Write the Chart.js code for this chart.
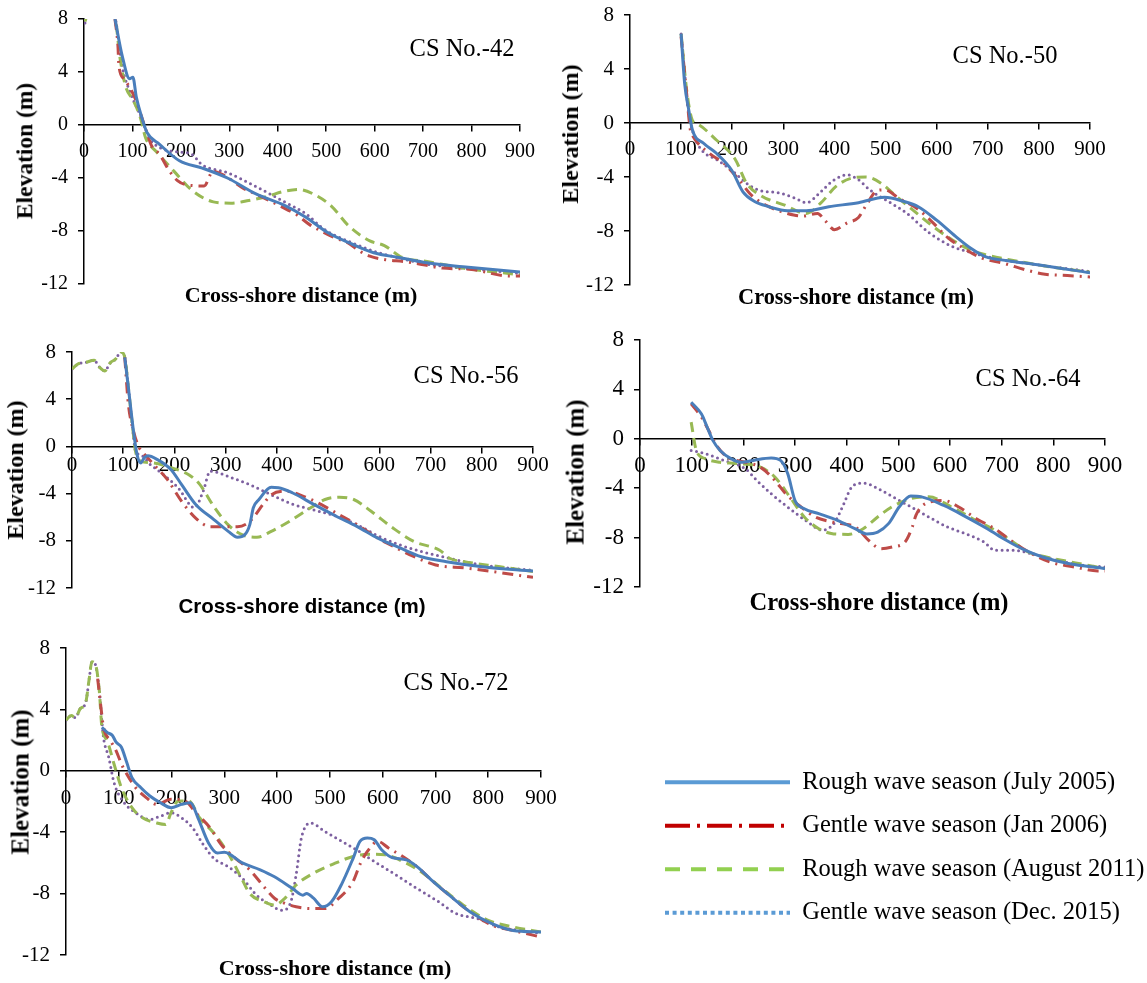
<!DOCTYPE html>
<html>
<head>
<meta charset="utf-8">
<script src="https://cdn.jsdelivr.net/npm/chart.js@4.4.1/dist/chart.umd.min.js"></script>
<style>
  body { margin: 0; background: #fff; }
  #page { position: relative; width: 1147px; height: 983px; overflow: hidden; }
  canvas { position: absolute; }
  .lbl { position: absolute; white-space: nowrap; transform: translate(-50%, -50%); color: #000;
         font-family: "Liberation Serif", "Times New Roman", serif; line-height: 1; }
  .ytitle { transform: translate(-50%, -50%) rotate(-90deg); font-weight: bold; }
  .xtitle { font-weight: bold; }
</style>
</head>
<body>
<div id="page"></div>
<script>
// distance (m), elevation (m) pairs for each profile survey
const seriesNames = ['Rough wave season (July 2005)', 'Gentle wave season (Jan 2006)',
                     'Rough wave season (August 2011)', 'Gentle wave season (Dec. 2015)'];
const xTicks = [0, 100, 200, 300, 400, 500, 600, 700, 800, 900];
const yTicks = [-12, -8, -4, 0, 4, 8];

const cs42Jul05 = [[64,8],[79,5.2],[94,3.5],[101,3.6],[108,2.1],[119,0.6],[130,-0.56],[156,-1.46],[197,-2.7],[244,-3.25],[296,-4.0],[355,-5.2],[414,-6.06],[458,-6.96],[502,-8.1],[554,-9.0],[598,-9.64],[650,-10.0],[708,-10.4],[782,-10.7],[900,-11.1]];
const cs42Jan06 = [[64,8],[70,6],[72,4.5],[82,3.5],[95,2.8],[108,1.8],[119,0.6],[130,-0.6],[140,-1.6],[156,-2.2],[175,-3.4],[193,-4.2],[210,-4.5],[248,-4.6],[266,-3.5],[289,-3.8],[330,-4.8],[360,-5.3],[420,-6.4],[440,-6.8],[465,-7.5],[495,-8.1],[517,-8.5],[545,-8.9],[568,-9.5],[590,-9.9],[620,-10.15],[660,-10.3],[680,-10.4],[740,-10.8],[800,-10.9],[878,-11.4],[900,-11.4]];
const cs42Aug11 = [[2,7.8],[30,11],[64,8.2],[75,4.9],[86,2.9],[101,1.9],[116,0.6],[127,-0.95],[149,-2.0],[186,-3.5],[222,-4.9],[267,-5.8],[303,-5.9],[340,-5.7],[377,-5.4],[414,-5.0],[443,-4.86],[473,-5.2],[510,-6.1],[546,-7.6],[590,-8.75],[620,-9.1],[657,-10.0],[708,-10.3],[782,-10.8],[900,-11.3]];
const cs42Dec15 = [[2,7.7],[30,11],[64,8.2],[79,4.4],[96,2.4],[119,0.5],[134,-0.95],[156,-1.7],[186,-2.0],[222,-2.2],[244,-3.0],[296,-3.6],[355,-4.65],[414,-5.8],[458,-6.7],[495,-7.85],[554,-8.9],[605,-9.6],[664,-10.15],[708,-10.5],[782,-10.8],[900,-11.2]];

const cs50Jul05 = [[100,6.6],[107,2.9],[115,0.96],[122,-0.5],[144,-1.5],[169,-2.24],[199,-3.5],[221,-5.1],[243,-5.8],[272,-6.2],[308,-6.5],[345,-6.5],[389,-6.2],[447,-5.9],[498,-5.5],[535,-5.8],[564,-6.2],[600,-7.2],[637,-8.4],[666,-9.26],[695,-9.9],[739,-10.2],[798,-10.5],[900,-11.1]];
const cs50Jan06 = [[100,6.4],[110,2.5],[118,-0.5],[122,-0.9],[155,-2.24],[184,-3.0],[213,-4.2],[239,-5.4],[272,-6.2],[308,-6.7],[337,-6.9],[367,-6.7],[381,-7.2],[400,-7.9],[425,-7.4],[447,-7.0],[462,-6.1],[484,-5.0],[498,-4.95],[527,-5.6],[564,-6.4],[593,-7.4],[622,-8.5],[652,-9.26],[688,-10.0],[732,-10.4],[776,-10.9],[812,-11.2],[856,-11.3],[900,-11.4]];
const cs50Aug11 = [[100,6.6],[111,2.4],[122,0.2],[133,-0.1],[169,-1.26],[206,-2.7],[228,-4.46],[257,-5.4],[301,-6.06],[345,-6.7],[374,-5.9],[403,-4.7],[432,-4.1],[462,-4.0],[491,-4.46],[520,-5.4],[549,-6.3],[593,-7.66],[630,-8.65],[666,-9.4],[695,-9.75],[739,-10.1],[812,-10.6],[900,-11.06]];
const cs50Dec15 = [[100,6.6],[115,0.7],[126,-1.0],[140,-2.0],[169,-2.7],[199,-3.5],[228,-4.46],[250,-4.95],[294,-5.2],[323,-5.57],[345,-5.9],[374,-5.07],[396,-4.3],[425,-3.84],[447,-4.2],[469,-4.95],[505,-5.8],[542,-6.7],[586,-8.15],[630,-9.14],[666,-9.58],[710,-10.0],[776,-10.4],[900,-11.0]];

const cs56Jul05 = [[103,7.55],[110,5.0],[120,1.3],[127,-0.7],[134,-1.4],[141,-0.97],[148,-0.8],[166,-1.1],[193,-1.96],[214,-3.24],[242,-4.94],[277,-6.2],[305,-7.2],[323,-7.7],[337,-7.5],[347,-6.65],[354,-5.2],[365,-4.5],[389,-3.47],[403,-3.5],[431,-3.95],[473,-4.94],[515,-5.9],[557,-6.8],[598,-7.8],[640,-8.6],[682,-9.35],[731,-9.77],[801,-10.2],[900,-10.57]];
const cs56Jan06 = [[103,7.55],[110,3.6],[120,1.3],[131,-0.1],[138,-0.5],[159,-1.5],[186,-2.8],[214,-4.66],[242,-6.1],[270,-6.8],[298,-6.8],[323,-6.8],[347,-6.36],[375,-4.8],[389,-4.1],[417,-3.8],[452,-4.23],[487,-4.94],[522,-5.8],[557,-6.65],[598,-7.8],[633,-8.6],[668,-9.35],[710,-10.05],[766,-10.3],[836,-10.7],[900,-11.1]];
const cs56Aug11 = [[0,6.56],[12,7.0],[26,7.1],[43,7.3],[54,6.7],[64,6.4],[75,7.1],[85,7.4],[96,8.0],[103,7.55],[110,5.0],[117,2.16],[124,-0.4],[134,-1.25],[159,-1.4],[193,-1.8],[228,-2.4],[249,-3.2],[277,-5.1],[305,-6.65],[333,-7.5],[361,-7.7],[389,-7.2],[424,-6.36],[466,-5.2],[494,-4.5],[522,-4.3],[550,-4.5],[584,-5.5],[626,-6.9],[668,-8.07],[717,-8.78],[738,-9.5],[766,-9.77],[836,-10.2],[900,-10.6]];
const cs56Dec15 = [[0,6.56],[12,7.0],[26,7.1],[43,7.3],[54,6.7],[64,6.4],[75,7.1],[85,7.4],[96,8.0],[103,7.55],[110,5.0],[117,2.16],[124,-0.4],[134,-0.7],[152,-1.5],[179,-2.4],[207,-3.5],[239,-5.2],[256,-3.8],[270,-2.1],[312,-2.67],[347,-3.24],[389,-4.1],[431,-4.9],[473,-5.4],[515,-5.9],[557,-6.65],[598,-7.6],[640,-8.35],[682,-8.9],[738,-9.5],[801,-10.05],[900,-10.5]];

const cs64Jul05 = [[99,2.96],[119,2.0],[130,0.94],[141,-0.13],[155,-0.94],[176,-1.6],[197,-1.9],[219,-1.75],[254,-1.56],[272,-1.75],[286,-2.83],[300,-5.0],[318,-5.66],[346,-6.06],[382,-6.6],[417,-7.3],[439,-7.7],[460,-7.55],[481,-6.87],[502,-5.5],[524,-4.64],[545,-4.7],[588,-5.4],[630,-6.3],[673,-7.3],[708,-8.2],[744,-9.0],[779,-9.57],[829,-10.1],[900,-10.5]];
const cs64Jan06 = [[99,2.83],[119,1.75],[133,0.67],[148,-0.54],[169,-1.48],[204,-1.9],[233,-2.3],[261,-3.37],[282,-4.45],[311,-5.5],[339,-6.33],[368,-6.7],[389,-6.87],[417,-7.14],[442,-8.2],[467,-8.9],[488,-8.76],[513,-8.35],[527,-7.14],[534,-6.2],[552,-5.26],[588,-5.0],[616,-5.5],[651,-6.47],[687,-7.3],[722,-8.36],[758,-9.3],[793,-9.97],[843,-10.4],[886,-10.7],[900,-10.7]];
const cs64Aug11 = [[99,1.35],[109,-0.94],[126,-1.6],[155,-1.9],[190,-2.0],[233,-2.3],[261,-3.1],[290,-4.7],[318,-6.33],[346,-7.28],[375,-7.7],[403,-7.74],[432,-7.28],[460,-6.33],[488,-5.5],[524,-4.85],[559,-4.7],[602,-5.5],[644,-6.47],[687,-7.4],[722,-8.36],[751,-9.16],[786,-9.57],[843,-10.05],[900,-10.5]];
const cs64Dec15 = [[99,-0.94],[126,-1.2],[162,-1.75],[204,-2.43],[226,-3.37],[254,-4.45],[290,-5.66],[325,-6.74],[353,-7.4],[375,-6.87],[392,-5.5],[410,-3.9],[432,-3.58],[467,-4.18],[502,-5.0],[531,-5.66],[559,-6.33],[595,-7.14],[630,-7.68],[666,-8.36],[687,-9.03],[722,-9.03],[758,-9.3],[808,-9.84],[857,-10.24],[900,-10.38]];

const cs72Jul05 = [[68,2.84],[78,2.5],[88,2.3],[95,1.86],[105,1.53],[115,0.55],[125,-0.44],[142,-1.1],[159,-1.64],[179,-2.08],[199,-2.4],[219,-2.19],[236,-2.08],[250,-3.06],[270,-4.7],[287,-5.36],[300,-5.3],[334,-6.0],[368,-6.45],[395,-6.9],[429,-7.66],[449,-8.1],[456,-7.99],[469,-8.3],[486,-8.86],[503,-8.53],[523,-7.33],[544,-5.7],[557,-4.6],[571,-4.38],[584,-4.49],[598,-5.14],[618,-5.65],[645,-5.8],[665,-6.24],[692,-7.1],[726,-8.1],[766,-9.2],[807,-9.96],[847,-10.4],[900,-10.5]];
const cs72Jan06 = [[60,6.0],[66,4.2],[71,2.84],[84,1.97],[95,1.3],[105,0.44],[115,-0.2],[132,-1.1],[152,-1.75],[172,-2.19],[199,-1.86],[226,-1.97],[246,-2.73],[273,-3.72],[294,-4.8],[321,-5.7],[348,-6.45],[375,-7.55],[395,-8.3],[415,-8.64],[436,-8.86],[463,-8.97],[490,-8.97],[517,-8.3],[544,-7.2],[557,-6.1],[571,-5.25],[591,-4.6],[611,-5.03],[638,-5.58],[665,-6.24],[692,-7.1],[726,-8.1],[766,-9.2],[807,-10.06],[847,-10.4],[900,-10.83]];
const cs72Aug11 = [[0,3.3],[10,3.6],[18,3.45],[27,4.05],[37,4.4],[44,6.0],[49,7.1],[56,6.9],[63,5.25],[68,2.84],[78,1.97],[91,0.44],[105,-1.1],[125,-2.4],[145,-3.06],[172,-3.4],[189,-3.5],[199,-2.73],[213,-1.97],[233,-1.97],[253,-3.06],[280,-4.05],[307,-5.36],[334,-7.1],[348,-7.99],[375,-8.53],[395,-8.75],[415,-8.3],[436,-7.44],[469,-6.67],[510,-6.02],[544,-5.58],[577,-5.43],[604,-5.47],[638,-5.9],[672,-6.56],[712,-7.66],[753,-8.75],[800,-9.74],[847,-10.17],[900,-10.5]];
const cs72Dec15 = [[0,3.3],[10,3.6],[18,3.45],[27,4.05],[37,4.4],[44,6.0],[49,7.1],[56,6.9],[63,5.25],[71,2.19],[81,0.88],[91,-0.77],[108,-1.97],[132,-2.73],[159,-3.17],[179,-2.95],[199,-2.73],[219,-3.06],[240,-3.72],[260,-4.8],[280,-5.7],[307,-6.24],[334,-7.0],[361,-8.1],[388,-8.75],[409,-9.08],[425,-8.64],[436,-6.78],[446,-4.38],[463,-3.4],[490,-3.94],[523,-4.6],[550,-5.14],[584,-5.9],[625,-6.78],[665,-7.66],[706,-8.53],[739,-9.3],[780,-9.63],[820,-10.17],[861,-10.4],[900,-10.6]];

Chart.defaults.font.family = '"Liberation Serif", "Times New Roman", serif';
Chart.defaults.color = '#000';

const lineStyles = [
  { borderColor: '#4a7ebb', borderDash: [], borderCapStyle: 'butt' },
  { borderColor: '#be4b48', borderDash: [11, 6, 2, 6], borderCapStyle: 'butt' },
  { borderColor: '#98b954', borderDash: [10, 6], borderCapStyle: 'butt' },
  { borderColor: '#7d60a0', borderDash: [0, 5.5], borderCapStyle: 'round' }
];
const legendStyles = [
  { borderColor: '#5b9bd5', borderDash: [], borderCapStyle: 'butt' },
  { borderColor: '#c00000', borderDash: [25, 7, 3, 7], borderCapStyle: 'butt' },
  { borderColor: '#92d050', borderDash: [15, 11], borderCapStyle: 'butt' },
  { borderColor: '#5b9bd5', borderDash: [4, 3.6], borderCapStyle: 'butt' }
];

const panels = [
  { name: 'CS No.-42', data: [cs42Jul05, cs42Jan06, cs42Aug11, cs42Dec15],
    L: 84, R: 520, T: 19, B: 284, xPad: 9, fs: 20,
    title: [462, 48, 24.5], xt: [301, 295, 22], yt: [25, 151, 23.5], sansX: false },
  { name: 'CS No.-50', data: [cs50Jul05, cs50Jan06, cs50Aug11, cs50Dec15],
    L: 630, R: 1090, T: 15, B: 285, xPad: 8, fs: 21,
    title: [1005, 55, 24.5], xt: [856, 297, 22.3], yt: [570, 134, 24], sansX: false },
  { name: 'CS No.-56', data: [cs56Jul05, cs56Jan06, cs56Aug11, cs56Dec15],
    L: 72, R: 533, T: 352, B: 588, xPad: 0, fs: 21,
    title: [466, 375, 24.5], xt: [302, 606, 20.5], yt: [15, 470, 24], sansX: true },
  { name: 'CS No.-64', data: [cs64Jul05, cs64Jan06, cs64Aug11, cs64Dec15],
    L: 640, R: 1105, T: 340, B: 587, xPad: 7, fs: 23,
    title: [1028, 378, 24.5], xt: [879, 602, 24.5], yt: [575, 472, 25], sansX: false },
  { name: 'CS No.-72', data: [cs72Jul05, cs72Jan06, cs72Aug11, cs72Dec15],
    L: 66, R: 541, T: 648, B: 955, xPad: 9, fs: 21,
    title: [456, 682, 24.5], xt: [335, 968, 22], yt: [20, 782, 25], sansX: false }
];

const page = document.getElementById('page');

function addLabel(text, pos, cls, sans) {
  const d = document.createElement('div');
  d.className = 'lbl ' + cls;
  d.textContent = text;
  d.style.left = pos[0] + 'px';
  d.style.top = pos[1] + 'px';
  d.style.fontSize = pos[2] + 'px';
  if (sans) d.style.fontFamily = '"Liberation Sans", Arial, sans-serif';
  page.appendChild(d);
}

// room around the plot area, large enough that tick labels never push it inward
const yAxisW = 56, padT = 36, padB = 36, padR = 44;

panels.forEach(p => {
  const cv = document.createElement('canvas');
  const w = p.R - p.L + yAxisW + padR;
  const h = p.B - p.T + padT + padB;
  cv.width = w; cv.height = h;
  cv.style.left = (p.L - yAxisW) + 'px';
  cv.style.top = (p.T - padT) + 'px';
  cv.style.width = w + 'px'; cv.style.height = h + 'px';
  page.appendChild(cv);

  new Chart(cv, {
    type: 'line',
    data: {
      datasets: p.data.map((d, i) => Object.assign({
        label: seriesNames[i],
        data: d,
        borderWidth: 3,
        pointRadius: 0,
        fill: false,
        cubicInterpolationMode: 'monotone'
      }, lineStyles[i]))
    },
    options: {
      responsive: false,
      animation: false,
      events: [],
      layout: { padding: { top: padT, bottom: padB, right: padR, left: 0 } },
      plugins: { legend: { display: false }, tooltip: { enabled: false } },
      scales: {
        x: {
          type: 'linear', min: 0, max: 900,
          position: { y: 0 },
          afterBuildTicks: s => { s.ticks = xTicks.map(v => ({ value: v })); },
          ticks: { font: { size: p.fs }, color: '#000', padding: p.xPad, maxRotation: 0, autoSkip: false },
          grid: { drawOnChartArea: false, color: '#000', lineWidth: 1.5, tickLength: 6 },
          border: { color: '#000', width: 1.5 }
        },
        y: {
          type: 'linear', min: -12, max: 8,
          afterBuildTicks: s => { s.ticks = yTicks.map(v => ({ value: v })); },
          afterFit: s => { s.width = yAxisW; },
          ticks: { font: { size: p.fs }, color: '#000', padding: 10 },
          grid: { drawOnChartArea: false, color: '#000', lineWidth: 1.5, tickLength: 6 },
          border: { color: '#000', width: 1.5 }
        }
      }
    }
  });

  addLabel(p.name, p.title, '', false);
  addLabel('Cross-shore distance (m)', p.xt, 'xtitle', p.sansX);
  addLabel('Elevation (m)', p.yt, 'ytitle', false);
});

// shared legend, drawn by Chart.js in its own canvas (tall so all four rows fit)
const lg = document.createElement('canvas');
lg.width = 500; lg.height = 420;
lg.style.left = '646px'; lg.style.top = '751px';
lg.style.width = '500px'; lg.style.height = '420px';
page.appendChild(lg);
new Chart(lg, {
  type: 'line',
  data: {
    datasets: seriesNames.map((n, i) => Object.assign({
      label: n, data: [], borderWidth: 4, pointRadius: 0
    }, legendStyles[i]))
  },
  options: {
    responsive: false,
    animation: false,
    events: [],
    layout: { padding: 0 },
    scales: { x: { display: false }, y: { display: false } },
    plugins: {
      tooltip: { enabled: false },
      legend: {
        position: 'top', align: 'start',
        labels: {
          usePointStyle: true, pointStyleWidth: 125,
          boxHeight: 4, padding: 19, color: '#000',
          font: { size: 24.5 },
          // take dash pattern straight from each dataset
          generateLabels: chart => chart.data.datasets.map((ds, i) => ({
            text: ds.label, datasetIndex: i, hidden: false,
            fillStyle: ds.borderColor, strokeStyle: ds.borderColor,
            lineWidth: ds.borderWidth, lineDash: ds.borderDash, lineCap: ds.borderCapStyle,
            pointStyle: 'line', fontColor: '#000'
          }))
        }
      }
    }
  }
});
</script>
</body>
</html>
